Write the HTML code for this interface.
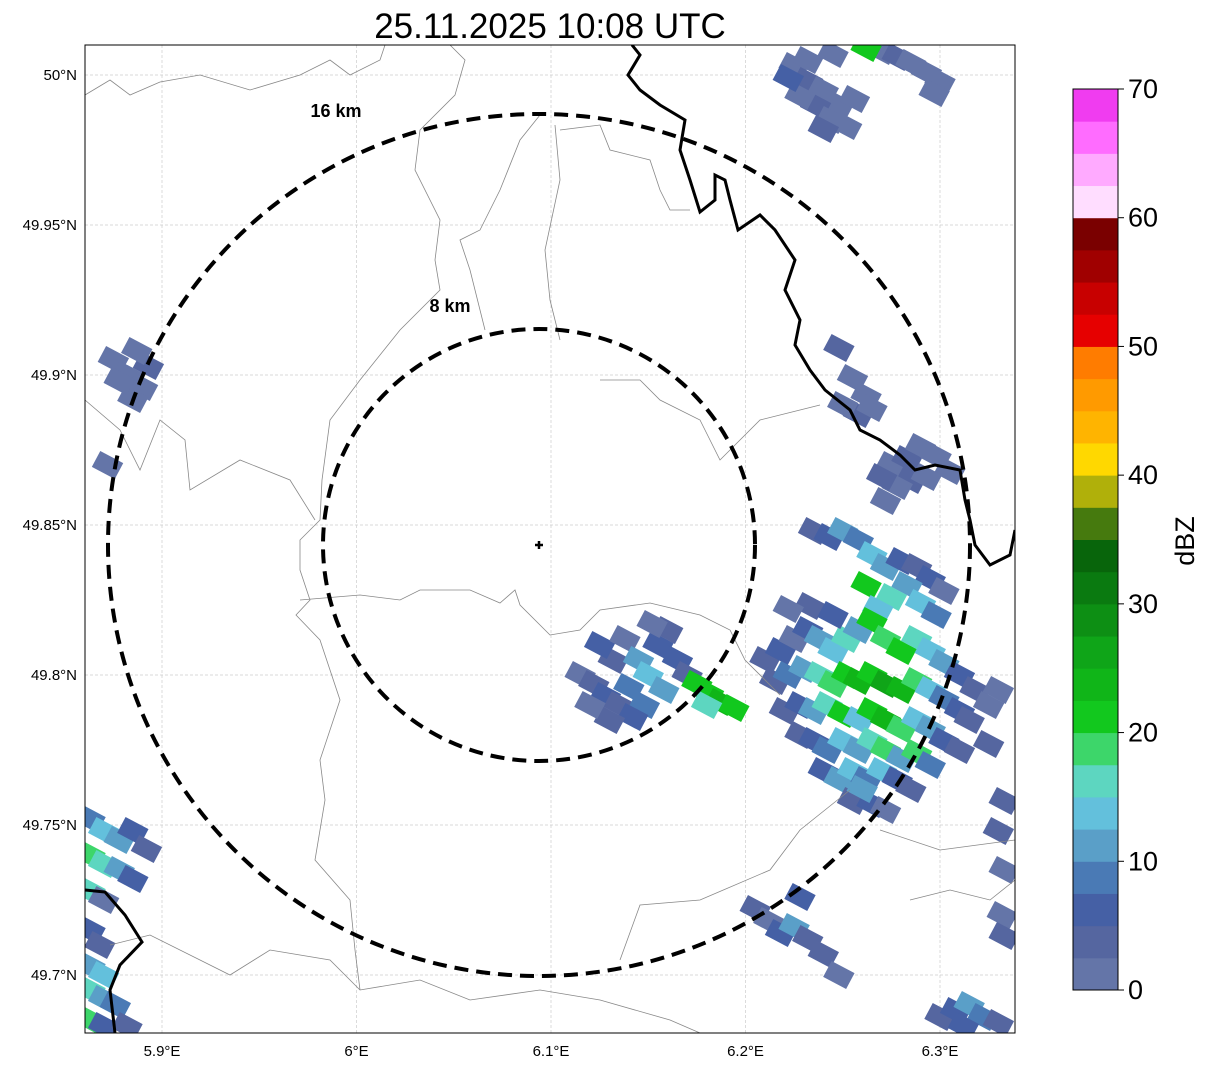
<!DOCTYPE html>
<html><head><meta charset="utf-8"><style>
body{margin:0;background:#fff;font-family:"Liberation Sans",sans-serif;}
svg text{font-family:"Liberation Sans",sans-serif;}
</style></head><body>
<svg id="s" width="1207" height="1069" viewBox="0 0 1207 1069" xmlns="http://www.w3.org/2000/svg">
<text x="550" y="38" font-size="35" text-anchor="middle">25.11.2025 10:08 UTC</text>
<defs><clipPath id="mc"><rect x="85" y="45" width="930" height="988"/></clipPath></defs>
<g id="grid"></g>
<g clip-path="url(#mc)">
<g id="cells"></g>
<g fill="none" stroke="#888" stroke-width="0.8">
<polyline points="85,95 110,80 130,95 160,82 200,75 250,90 300,75 330,60 350,75 380,60 385,45"/>
<polyline points="450,45 465,60 455,95 420,130 415,170 440,220 435,260 440,290 400,330 360,380 330,420 322,480 320,520 300,540 300,570 310,600 296,615 320,640 340,700 320,760 325,800 315,860 350,900 355,950 360,990"/>
<polyline points="540,115 520,140 500,190 480,230 460,240 470,270 485,330"/>
<polyline points="555,125 560,180 545,250 550,300 560,340"/>
<polyline points="560,130 600,125 610,150 650,160 660,190 670,210 690,210"/>
<polyline points="300,600 360,595 400,600 420,590 470,590 500,603 515,590 520,605 550,635 580,630 600,610 650,603 700,615 730,630 745,660 780,695"/>
<polyline points="600,380 640,380 660,400 700,420 720,460 760,420 820,405"/>
<polyline points="85,400 120,430 140,470 160,420 185,440 190,490 240,460 290,480 315,520"/>
<polyline points="110,945 150,935 200,960 230,975 270,950 330,960 360,990 420,980 470,1000 540,990 600,1000 670,1020 700,1033"/>
<polyline points="850,790 800,830 770,870 700,900 640,905 620,960"/>
<polyline points="880,830 940,850 1015,840"/>
<polyline points="910,900 950,890 990,900 1015,880"/>
</g>
<polyline fill="none" stroke="#000" stroke-width="3" points="632,45 640,55 628,75 640,90 660,105 685,120 680,150 690,180 700,212 715,200 715,175 725,180 730,200 738,230 760,215 775,230 795,260 785,290 800,320 795,345 810,370 825,390 850,410 860,430 880,440 900,455 915,470 935,465 960,470 965,500 970,520 975,545 990,565 1010,555 1015,530"/>
<polyline fill="none" stroke="#000" stroke-width="3" points="85,890 105,892 125,915 142,942 120,965 110,990 115,1033"/>
</g>
<rect x="85" y="45" width="930" height="988" fill="none" stroke="#000" stroke-width="1"/>
<circle cx="539" cy="545" r="216" fill="none" stroke="#000" stroke-width="4" stroke-dasharray="14,8"/>
<circle cx="539" cy="545" r="431" fill="none" stroke="#000" stroke-width="4" stroke-dasharray="14,8"/>
<text x="336" y="117" font-size="18" font-weight="bold" text-anchor="middle">16 km</text>
<text x="450" y="312" font-size="18" font-weight="bold" text-anchor="middle">8 km</text>
<path d="M535,545 H543 M539,541 V549" stroke="#000" stroke-width="2.5"/>
<g id="ticks"></g>
<g id="cbar"></g>
<text transform="translate(1194,541) rotate(-90)" font-size="27" text-anchor="middle">dBZ</text>
</svg>
<script>
const lonTicks=[5.9,6.0,6.1,6.2,6.3];
const lonLabels=["5.9°E","6°E","6.1°E","6.2°E","6.3°E"];
const latTicks=[50,49.95,49.9,49.85,49.8,49.75,49.7];
const latLabels=["50°N","49.95°N","49.9°N","49.85°N","49.8°N","49.75°N","49.7°N"];
const cbColors=["#6475a8","#5566a0","#4560a5","#4a7ab5","#5a9fc8","#63c0dc","#5dd6c0","#3dd66a","#12c81e","#10b518","#0fa518","#0d8f14","#0a7a10","#08650b","#467a0e","#b0b00a","#ffd800","#ffb400","#ff9a00","#ff7c00","#e60000","#c80000","#a00000","#7a0000","#ffddff","#ffaaff","#ff6cff","#f03cf0"];
const cbTicks=[0,10,20,30,40,50,60,70];
const cellLon=[6.225,6.232,6.240,6.248,6.236,6.228,6.244,6.252,6.240,6.256,6.232,6.222,
6.270,6.278,6.285,6.293,6.300,6.297,6.262,6.245,
5.875,5.882,5.890,5.885,5.893,5.878,5.887,5.872,
6.248,6.255,6.262,6.258,6.265,6.250,
6.275,6.283,6.290,6.298,6.305,6.285,6.293,6.278,6.270,6.272,
6.115,6.122,6.128,6.135,6.140,6.132,6.125,6.138,6.145,6.150,6.155,6.160,6.165,6.170,6.158,6.148,6.142,6.130,6.120,6.152,
6.175,6.181,6.187,6.194,6.180,
6.235,6.243,6.250,6.258,6.265,6.272,6.280,6.288,6.295,6.302,6.283,6.275,6.290,6.298,6.262,6.268,
6.210,6.218,6.225,6.232,6.238,6.245,6.252,6.258,6.265,6.272,6.280,6.288,6.295,6.302,6.310,6.318,6.325,
6.215,6.222,6.230,6.238,6.245,6.252,6.258,6.265,6.272,6.280,6.288,6.295,6.302,6.310,
6.220,6.228,6.235,6.242,6.250,6.258,6.265,6.272,6.280,6.288,6.295,6.302,6.310,
6.228,6.235,6.242,6.250,6.258,6.265,6.272,6.280,6.288,6.295,6.240,6.248,6.255,6.262,6.270,6.278,6.285,6.255,6.265,6.272,6.260,
6.315,6.325,6.330,6.233,6.222,6.245,
5.863,5.870,5.878,5.885,5.892,5.863,5.870,5.878,5.885,5.863,5.870,5.863,5.868,5.863,5.870,5.863,5.870,5.876,5.863,5.870,5.882,
6.205,6.212,6.218,6.225,6.232,6.228,6.240,6.248,
6.300,6.308,6.315,6.322,6.330,6.312,
6.330,6.333,6.333,6.332,6.333];
const cellLat=[50.003,49.998,49.995,49.990,49.990,49.993,49.985,49.983,49.982,49.992,50.005,49.999,
50.008,50.006,50.004,50.001,49.998,49.994,50.009,50.007,
49.905,49.900,49.896,49.892,49.903,49.898,49.908,49.870,
49.909,49.899,49.893,49.887,49.889,49.890,
49.870,49.872,49.876,49.873,49.868,49.865,49.866,49.863,49.866,49.858,
49.800,49.797,49.793,49.790,49.796,49.805,49.810,49.812,49.805,49.800,49.810,49.815,49.805,49.800,49.795,49.790,49.786,49.785,49.790,49.817,
49.797,49.794,49.791,49.789,49.790,
49.848,49.846,49.848,49.845,49.840,49.836,49.838,49.836,49.832,49.828,49.830,49.826,49.824,49.820,49.830,49.822,
49.805,49.808,49.812,49.815,49.812,49.808,49.812,49.815,49.818,49.812,49.808,49.812,49.808,49.804,49.800,49.795,49.790,
49.798,49.800,49.802,49.800,49.797,49.800,49.798,49.800,49.797,49.795,49.798,49.795,49.792,49.788,
49.788,49.790,49.788,49.790,49.787,49.785,49.788,49.785,49.782,49.785,49.782,49.778,49.775,
49.780,49.778,49.775,49.778,49.775,49.778,49.775,49.772,49.774,49.770,49.768,49.765,49.768,49.765,49.768,49.765,49.762,49.758,49.757,49.755,49.762,
49.785,49.777,49.795,49.823,49.822,49.820,
49.752,49.748,49.745,49.748,49.742,49.740,49.737,49.735,49.732,49.728,49.725,49.715,49.710,49.703,49.700,49.695,49.692,49.690,49.685,49.683,49.683,
49.722,49.718,49.714,49.716,49.712,49.726,49.707,49.700,
49.686,49.688,49.690,49.686,49.684,49.683,
49.748,49.735,49.758,49.720,49.713];
const cellDbz=[2,3,1,2,4,1,2,1,3,2,1,5,
1,3,2,1,2,1,22,1,
2,1,2,1,3,1,2,2,
3,1,2,3,1,2,
2,3,1,2,1,4,2,1,3,1,
2,3,6,4,8,3,5,2,10,13,5,3,7,4,12,9,5,3,2,2,
22,20,23,21,16,
3,5,12,8,13,10,5,3,6,2,12,16,14,8,20,13,
3,5,2,7,12,14,16,10,22,18,20,17,13,10,5,3,2,
4,8,10,15,18,21,24,20,26,23,19,14,9,6,
3,6,12,16,22,14,20,24,18,13,10,6,3,
4,7,9,13,11,15,18,12,19,8,5,10,13,8,14,6,4,3,5,2,12,
3,4,2,3,2,6,
8,14,10,6,3,18,16,12,5,17,2,6,4,10,13,16,10,8,19,6,3,
3,2,5,10,4,7,3,2,
3,6,12,8,3,5,
3,2,4,1,3];
const NS="http://www.w3.org/2000/svg";
function xOf(lon){return 162+(lon-5.9)*1945;}
function yOf(lat){return 75+(50-lat)*3000;}
function yCb(v){return 990-v*(901/70);}
function mk(tag,attrs,parent){const e=document.createElementNS(NS,tag);for(const k in attrs)e.setAttribute(k,attrs[k]);parent.appendChild(e);return e;}
const grid=document.getElementById('grid'),ticks=document.getElementById('ticks'),cells=document.getElementById('cells'),cbar=document.getElementById('cbar');
lonTicks.forEach((v,i)=>{const x=xOf(v);
 const l=mk('line',{x1:x,x2:x,y1:45,y2:1033,stroke:'#ccc','stroke-width':0.7,'stroke-dasharray':'3,2'},grid);
 
 
 const t=mk('text',{x:x,y:1056,'font-size':15,'text-anchor':'middle'},ticks);t.textContent=lonLabels[i];
 
 });
latTicks.forEach((v,i)=>{const y=yOf(v);
 const l=mk('line',{x1:85,x2:1015,y1:y,y2:y,stroke:'#ccc','stroke-width':0.7,'stroke-dasharray':'3,2'},grid);
 
 
 const t=mk('text',{x:77,y:y+5,'font-size':15,'text-anchor':'end'},ticks);t.textContent=latLabels[i];
 
 });
function col(d){return cbColors[Math.min(cbColors.length-1,Math.floor(d/2.5))];}
cellLon.forEach((lon,i)=>{const x=xOf(lon),y=yOf(cellLat[i]);
 const r=mk('rect',{x:x-13,y:y-9,width:26,height:18,fill:col(cellDbz[i]),transform:`rotate(28 ${x} ${y})`},cells);
 
 });
cbColors.forEach((c,i)=>{const v0=i*2.5,v1=v0+2.5;
 const r=mk('rect',{x:1073,y:yCb(v1),width:45,height:yCb(v0)-yCb(v1)+0.5,fill:c},cbar);
 
 });
mk('rect',{x:1073,y:89,width:45,height:901,fill:'none',stroke:'#000','stroke-width':1},cbar);
cbTicks.forEach(v=>{const y=yCb(v);
 mk('line',{x1:1118,x2:1124,y1:y,y2:y,stroke:'#000'},cbar);
 const t=mk('text',{x:1128,y:y+9,'font-size':27},cbar);t.textContent=v;
 
 });
</script>
</body></html>
